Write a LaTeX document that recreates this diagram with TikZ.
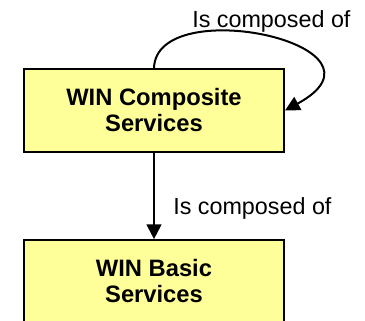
\documentclass[tikz,border=0pt]{standalone}
\usepackage{fontspec}
\setmainfont{Liberation Sans}
\usetikzlibrary{positioning}
\usetikzlibrary{arrows.meta}
\definecolor{boxyellow}{RGB}{255,255,153}
\tikzset{svcbox/.style={draw,fill=boxyellow,line width=1.5pt,minimum width=195pt,minimum height=62pt,align=center,font=\fontsize{17.8}{19.5}\selectfont\bfseries},
relation/.style={line width=1.5pt,-{Triangle[width=11pt,length=11pt]}},
rellabel/.style={anchor=base west,inner sep=0pt,font=\fontsize{17.5}{19.5}\selectfont}}

\begin{document}
\begin{tikzpicture}[x=0.75pt,y=-0.75pt]
\clip (0,0) rectangle (365,321);
\node (comp) at (154,110.5) [svcbox] {WIN Composite\\Services};
\node (basic) at (154,281.5) [svcbox] {WIN Basic\\Services};
\node (l1) at (192,28) [rellabel] {Is composed of};
\node (l2) at (173,215) [rellabel] {Is composed of};
\draw[relation] (comp.north) .. controls (156,-8) and (405,45) .. (comp.east);
\draw[relation] (comp) -- (basic);
\end{tikzpicture}
\end{document}
